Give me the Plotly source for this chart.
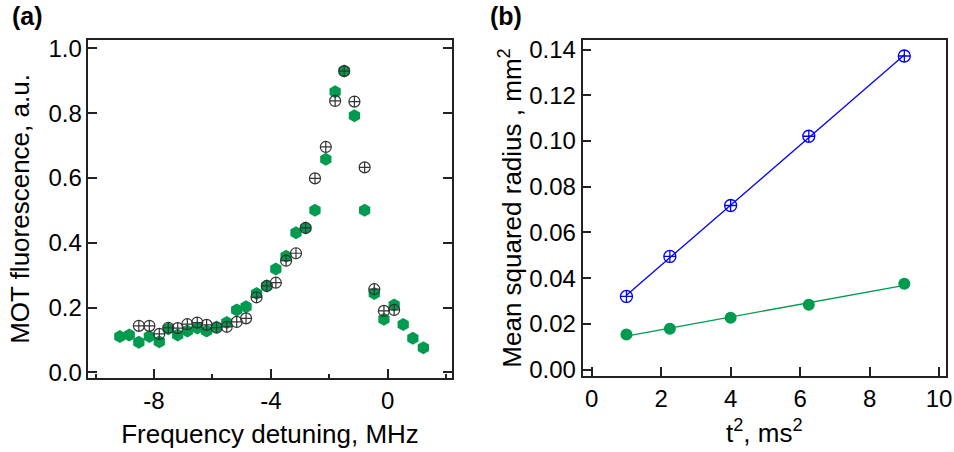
import numpy as np
import plotly.graph_objects as go

# ---------------- Panel (a) data ----------------
detuning_green = [-9.17, -8.85, -8.52, -8.16, -7.82, -7.51, -7.19, -6.86, -6.52, -6.20,
                  -5.86, -5.51, -5.17, -4.85, -4.49, -4.14, -3.83, -3.48, -3.14, -2.81,
                  -2.49, -2.12, -1.80, -1.49, -1.14, -0.79, -0.46, -0.13, 0.22, 0.53,
                  0.86, 1.22]
fluor_green = [0.111, 0.116, 0.093, 0.111, 0.095, 0.135, 0.116, 0.128, 0.137, 0.128,
               0.140, 0.154, 0.193, 0.203, 0.244, 0.267, 0.319, 0.359, 0.431, 0.446,
               0.501, 0.658, 0.866, 0.930, 0.792, 0.501, 0.244, 0.164, 0.208, 0.148,
               0.106, 0.076]

detuning_open = [-8.52, -8.16, -7.82, -7.51, -7.19, -6.86, -6.52, -6.20, -5.86, -5.51,
                 -5.17, -4.85, -4.49, -4.14, -3.83, -3.48, -3.14, -2.81, -2.49, -2.12,
                 -1.80, -1.49, -1.14, -0.79, -0.46, -0.13, 0.22]
fluor_open = [0.144, 0.144, 0.119, 0.138, 0.137, 0.149, 0.154, 0.147, 0.138, 0.141,
              0.156, 0.167, 0.232, 0.267, 0.277, 0.345, 0.368, 0.446, 0.599, 0.696,
              0.838, 0.930, 0.836, 0.633, 0.257, 0.190, 0.193]

detuning_tickvals = [-8, -4, 0]
detuning_ticktext = ["-8", "-4", "0"]

# ---------------- Panel (b) data ----------------
t_squared = [1.0, 2.25, 4.0, 6.25, 9.0]
radius_blue = [0.0320, 0.0495, 0.0718, 0.1021, 0.1372]
radius_green = [0.0154, 0.0179, 0.0227, 0.0284, 0.0376]

GREEN = "#009B4E"
BLUE = "#0000FF"
DARK = "#333333"
AX = "#222222"
FONT = "Liberation Sans, Arial, sans-serif"

W, H = 954, 452

fig = go.Figure()

# Panel (a)
fig.add_trace(go.Scatter(x=detuning_green, y=fluor_green, mode="markers",
                         marker=dict(symbol="hexagon", size=13, color=GREEN,
                                     line=dict(width=0)),
                         xaxis="x", yaxis="y", showlegend=False))
fig.add_trace(go.Scatter(x=detuning_open, y=fluor_open, mode="markers",
                         marker=dict(symbol="circle-cross-open", size=11, color=DARK,
                                     line=dict(width=1.2, color=DARK)),
                         xaxis="x", yaxis="y", showlegend=False))

# Panel (b) linear fits
tx = np.array(t_squared)
xfit = np.array([tx.min(), tx.max()])
pg = np.polyfit(tx, np.array(radius_green), 1)
pb = np.polyfit(tx, np.array(radius_blue), 1)

fig.add_trace(go.Scatter(x=xfit, y=np.polyval(pg, xfit), mode="lines",
                         line=dict(color=GREEN, width=1.3),
                         xaxis="x2", yaxis="y2", showlegend=False))
fig.add_trace(go.Scatter(x=t_squared, y=radius_green, mode="markers",
                         marker=dict(symbol="circle", size=12, color=GREEN, line=dict(width=0)),
                         xaxis="x2", yaxis="y2", showlegend=False))
fig.add_trace(go.Scatter(x=xfit, y=np.polyval(pb, xfit), mode="lines",
                         line=dict(color=BLUE, width=1.3),
                         xaxis="x2", yaxis="y2", showlegend=False))
fig.add_trace(go.Scatter(x=t_squared, y=radius_blue, mode="markers",
                         marker=dict(symbol="circle-cross-open", size=12, color=BLUE,
                                     line=dict(width=1.3, color=BLUE)),
                         xaxis="x2", yaxis="y2", showlegend=False))

common = dict(showline=True, linecolor=AX, linewidth=1.5, showgrid=False, zeroline=False,
              automargin=False,
              ticks="inside", ticklen=9, tickwidth=1.5, tickcolor=AX,
              tickfont=dict(family=FONT, size=24, color="black"))

TITLE_FONT = dict(family=FONT, size=26, color="black")

fig.update_layout(
    width=W, height=H,
    margin=dict(l=0, r=0, t=0, b=0),
    paper_bgcolor="white", plot_bgcolor="white",
    font=dict(family=FONT, color="black"),
    xaxis=dict(domain=[88.3 / W, 451.7 / W], anchor="y", range=[-10.25, 2.19],
               tickmode="array", tickvals=detuning_tickvals, ticktext=detuning_ticktext,
               mirror=True,
               minor=dict(dtick=2, tick0=0, ticks="inside", ticklen=4.5, tickwidth=1.5,
                          tickcolor=AX),
               title=dict(text="Frequency detuning, MHz", font=TITLE_FONT, standoff=12),
               **common),
    yaxis=dict(domain=[1 - 378 / H, 1 - 40 / H], anchor="x", range=[-0.017, 1.026],
               tick0=0, dtick=0.2, tickformat=".1f", mirror="allticks",
               title=dict(text="MOT fluorescence, a.u.", font=TITLE_FONT, standoff=11),
               **common),
    xaxis2=dict(domain=[582.5 / W, 946 / W], anchor="y2", range=[-0.265, 10.2],
                tick0=0, dtick=2, mirror=True,
                title=dict(text="t<sup>2</sup>, ms<sup>2</sup>", font=TITLE_FONT, standoff=13),
                **common),
    yaxis2=dict(domain=[1 - 376 / H, 1 - 40 / H], anchor="x2", range=[-0.0028, 0.1442],
                tick0=0, dtick=0.02, tickformat=".2f", mirror=True,
                title=dict(text="Mean squared radius , mm<sup>2</sup>", font=TITLE_FONT,
                           standoff=0),
                **common),
    annotations=[
        dict(text="<b>(a)</b>", x=10 / W, y=1 - 16 / H, xref="paper", yref="paper",
             xanchor="left", yanchor="middle", showarrow=False,
             font=dict(family=FONT, size=25, color="black")),
        dict(text="<b>(b)</b>", x=488 / W, y=1 - 16 / H, xref="paper", yref="paper",
             xanchor="left", yanchor="middle", showarrow=False,
             font=dict(family=FONT, size=25, color="black")),
    ],
)

fig.write_html("out.html", config={"displayModeBar": False},
               post_script="document.body.style.margin='0';document.body.style.padding='0';")
